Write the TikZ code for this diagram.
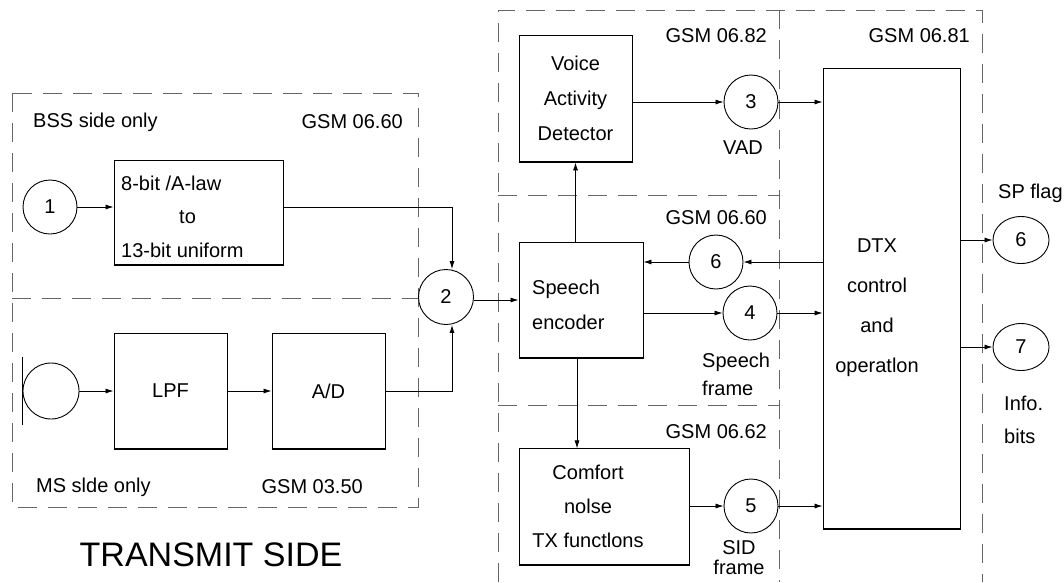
\documentclass[tikz,border=0pt]{standalone}
\usepackage{fontspec}
\setmainfont{Liberation Sans}
\usetikzlibrary{arrows.meta, calc, positioning, shapes.geometric}

\begin{document}
\begin{tikzpicture}[x=1pt, y=-1pt, >={Latex[length=8pt,width=5pt]}, inner sep=0pt,
    font=\fontsize{20}{24}\selectfont,
    zone/.style={draw=black!60, line width=1pt, dash pattern=on 19pt off 11pt},
    block/.style={draw, line width=0.9pt},
    port/.style={draw, circle, line width=0.9pt, minimum size=54pt},
    oval/.style={draw, ellipse, line width=0.9pt, minimum width=56pt, minimum height=47pt},
    flow/.style={->, line width=0.8pt},
    txt/.style={align=center}]

    \useasboundingbox (0,0) rectangle (1064,582);

    \draw[zone] (12,93) rectangle (418,507);
    \draw[zone] (12,298) -- (418,298);
    \draw[zone] (498,582) -- (498,10) -- (982,10) -- (982,582);
    \draw[zone] (779,10) -- (779,582);
    \draw[zone] (498,195) -- (779,195);
    \draw[zone] (498,405) -- (779,405);

    \node[block, minimum width=169pt, minimum height=105pt] (conv) at (198.5,212.5) {};
    \node[block, minimum width=113pt, minimum height=116pt] (lpf) at (170.5,391) {LPF};
    \node[block, minimum width=113pt, minimum height=116pt] (ad) at (328.5,391) {A/D};
    \node[block, txt, minimum width=113pt, minimum height=127pt, font=\fontsize{20}{35}\selectfont] (vad) at (575.5,98.5) {Voice\\Activity\\Detector};
    \node[block, minimum width=124pt, minimum height=116pt] (enc) at (581,300) {};
    \node[block, minimum width=170pt, minimum height=117pt] (cn) at (604,506.5) {};
    \node[block, minimum width=137pt, minimum height=461pt] (dtx) at (891.5,298.5) {};

    \foreach \b in {conv, lpf, ad, vad, enc, cn, dtx}
        \draw[line width=2pt] (\b.south west) -- (\b.south east);

    \node[align=left, anchor=west, font=\fontsize{20}{33.5}\selectfont] (convtext) at (121,216.5) {8-bit /A-law\\\hspace*{58pt}to\\13-bit uniform};
    \node[align=left, anchor=west, font=\fontsize{20}{35}\selectfont] (enctext) at (532,304.5) {Speech\\encoder};
    \node[txt, font=\fontsize{20}{34}\selectfont] (cntext) at (588,506) {Comfort\\nolse\\TX functlons};
    \node[txt, font=\fontsize{20}{40}\selectfont] (dtxtext) at (877,308) {DTX\\control\\and\\operatlon};

    \node[port] (c1) at (50,207) {1};
    \node[port, minimum size=56pt] (mic) at (51,391) {};
    \draw[line width=0.9pt] ([yshift=34pt]mic.west) -- ([yshift=-34pt]mic.west);
    \node[port, minimum size=55pt] (c2) at (446,297) {2};
    \node[port] (c3) at (751,102) {3};
    \node[port] (c6a) at (716,262) {6};
    \node[port] (c4) at (750,313) {4};
    \node[port] (c5) at (751,506) {5};
    \node[oval] (c6b) at (1021,240) {6};
    \node[oval] (c7) at (1021,347) {7};

    \draw[flow] (c1.east) -- (c1.east -| conv.west);
    \draw[flow] (conv.east |- c1) -| ([xshift=6pt]c2.north);
    \draw[flow] (ad.east) -| ([xshift=6pt]c2.south);
    \draw[flow] (mic.east) -- (lpf.west);
    \draw[flow] (lpf) -- (ad);
    \draw[flow] (c2.east |- enc.west) -- (enc.west);
    \draw[flow] (enc.north -| vad.south) -- (vad.south);
    \draw[flow] ([xshift=-4pt]enc.south) -- ++(0,90);
    \draw[flow] (vad.east |- c3) -- (c3.west);
    \draw[flow] (c3.east) -- (c3.east -| dtx.west);
    \draw[flow] (c6a -| dtx.west) -- (c6a.east);
    \draw[flow] (c6a.west) -- (c6a.west -| enc.east);
    \draw[flow] (c4 -| enc.east) -- (c4.west);
    \draw[flow] (c4.east) -- (c4.east -| dtx.west);
    \draw[flow] (cn.east |- c5) -- (c5.west);
    \draw[flow] (c5.east) -- (c5.east -| dtx.west);
    \draw[flow] (c6b -| dtx.east) -- (c6b.west);
    \draw[flow] (c7 -| dtx.east) -- (c7.west);

    \node[anchor=west] (bss) at (33,122) {BSS side only};
    \node[anchor=east] (g0660a) at (403,122) {GSM 06.60};
    \node[anchor=west] (ms) at (36,487) {MS slde only};
    \node[anchor=east] (g0350) at (363,487) {GSM 03.50};
    \node[font=\fontsize{34}{40}\selectfont] (title) at (211,555) {TRANSMIT SIDE};
    \node[anchor=east] (g0682) at (767,36) {GSM 06.82};
    \node[anchor=east] (g0660b) at (767,218) {GSM 06.60};
    \node[anchor=east] (g0662) at (767,432) {GSM 06.62};
    \node[anchor=east] (g0681) at (970,36) {GSM 06.81};
    \node (vadlbl) at (743,148) {VAD};
    \node[align=left, anchor=west, font=\fontsize{20}{28}\selectfont] (speechlbl) at (702,374) {Speech\\frame};
    \node[txt, font=\fontsize{20}{20}\selectfont] (sidlbl) at (739,558) {SID\\frame};
    \node[anchor=west] (splbl) at (998,193) {SP flag};
    \node[align=left, anchor=west, font=\fontsize{20}{33}\selectfont] (infolbl) at (1004,420) {Info.\\bits};
\end{tikzpicture}
\end{document}
